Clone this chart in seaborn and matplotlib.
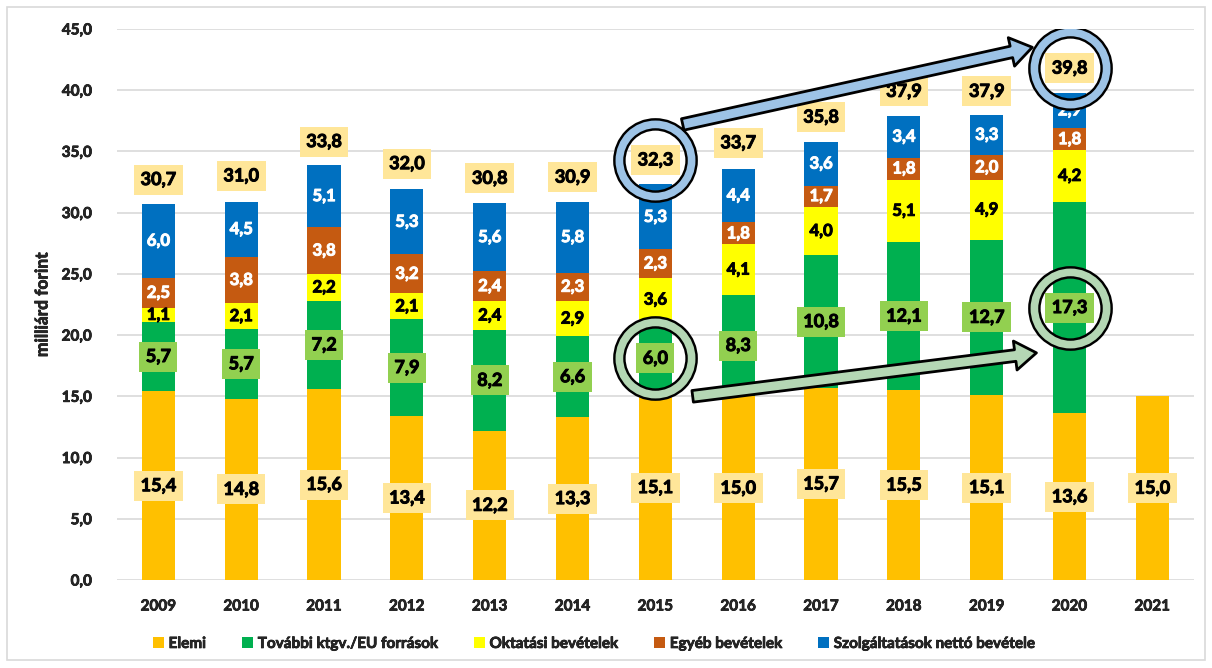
import matplotlib
matplotlib.use("Agg")
import numpy as np
import pandas as pd
import matplotlib.pyplot as plt
import matplotlib.patheffects as pe
import seaborn as sns
from matplotlib.patches import Patch, Rectangle, FancyArrowPatch
from matplotlib.ticker import MultipleLocator, FuncFormatter

# data (milliárd forint)
years = [str(y) for y in range(2009, 2022)]
elemi = [15.4, 14.8, 15.6, 13.4, 12.2, 13.3, 15.1, 15.0, 15.7, 15.5, 15.1, 13.6, 15.0]
tovabbi = [5.7, 5.7, 7.2, 7.9, 8.2, 6.6, 6.0, 8.3, 10.8, 12.1, 12.7, 17.3, 0]
oktatasi = [1.1, 2.1, 2.2, 2.1, 2.4, 2.9, 3.6, 4.1, 4.0, 5.1, 4.9, 4.2, 0]
egyeb = [2.5, 3.8, 3.8, 3.2, 2.4, 2.3, 2.3, 1.8, 1.7, 1.8, 2.0, 1.8, 0]
szolg = [6.0, 4.5, 5.1, 5.3, 5.6, 5.8, 5.3, 4.4, 3.6, 3.4, 3.3, 2.9, 0]
totals = [30.7, 31.0, 33.8, 32.0, 30.8, 30.9, 32.3, 33.7, 35.8, 37.9, 37.9, 39.8, np.nan]

series = ["Elemi", "További ktgv./EU források", "Oktatási bevételek",
          "Egyéb bevételek", "Szolgáltatások nettó bevétele"]
colors = ["#FFC000", "#00B050", "#FFFF00", "#C55A11", "#0070C0"]
label_colors = ["black", "black", "black", "white", "white"]
label_boxes = ["#FFE699", "#92D050", None, None, None]

df = pd.DataFrame(dict(zip(series, [elemi, tovabbi, oktatasi, egyeb, szolg])), index=years)
cum = df.cumsum(axis=1)


def fmt(v):
    return f"{v:.1f}".replace(".", ",")


def heavy(color, w=0.7):
    # thin outline in the text colour makes Lato look like Calibri Bold
    return [pe.withStroke(linewidth=w, foreground=color)]


sns.set_style("white")
plt.rcParams["font.family"] = ["Lato", "DejaVu Sans"]
plt.rcParams["font.weight"] = "bold"

fig = plt.figure(figsize=(12.12, 6.68), dpi=100)
ax = fig.add_axes([0.0965, 0.1317, 0.8885, 0.825])

# stacked bars: draw cumulative sums from the top series down
for col, c in reversed(list(zip(series, colors))):
    sns.barplot(x=years, y=cum[col].values, color=c, width=0.4, saturation=1,
                errorbar=None, linewidth=0, ax=ax)

ax.set_ylim(0, 45)
ax.set_xlim(-0.5, len(years) - 0.5)
ax.yaxis.set_major_locator(MultipleLocator(5))
ax.yaxis.set_major_formatter(FuncFormatter(lambda v, p: fmt(v)))
ax.grid(axis="y", color="#D9D9D9", lw=1.2)
ax.set_axisbelow(True)
for s in ax.spines.values():
    s.set_visible(False)
ax.tick_params(axis="y", length=0, pad=18, labelsize=11)
ax.tick_params(axis="x", length=0, pad=14, labelsize=11)
for lab in ax.get_xticklabels() + ax.get_yticklabels():
    lab.set_fontweight("bold")
    lab.set_path_effects(heavy("black", 0.5))
ax.set_ylabel("milliárd forint", fontsize=12.5, fontweight="bold", labelpad=8,
              path_effects=heavy("black", 0.5))
ax.set_xlabel("")

# segment labels
for i, col in enumerate(series):
    for j, yr in enumerate(years):
        v = df.loc[yr, col]
        if v <= 0:
            continue
        y = cum.loc[yr, col] - v / 2
        box = None
        size = 12
        if label_boxes[i]:
            box = dict(boxstyle="square,pad=0.36", fc=label_boxes[i], ec="none")
            size = 13
        ax.text(j, y, fmt(v), ha="center", va="center", fontsize=size,
                fontweight="bold", color=label_colors[i], bbox=box, zorder=5,
                path_effects=heavy(label_colors[i]))

# totals above bars
for j, t in enumerate(totals):
    if np.isnan(t):
        continue
    ax.text(j, t + 2.0, fmt(t), ha="center", va="center", fontsize=13,
            fontweight="bold", color="black", zorder=5, path_effects=heavy("black"),
            bbox=dict(boxstyle="square,pad=0.36", fc="#FFE699", ec="none"))

# highlight rings and arrows (2015 vs 2020)
i15, i20 = years.index("2015"), years.index("2020")
ring_blue, ring_green = "#9DC3E6", "#B4D7B4"
green_mid = [cum.loc[y, series[1]] - df.loc[y, series[1]] / 2 for y in ("2015", "2020")]
for (x, y, c) in [(i15, totals[i15] + 2.0, ring_blue), (i20, totals[i20] + 2.0, ring_blue),
                  (i15, green_mid[0], ring_green), (i20, green_mid[1], ring_green)]:
    ax.plot([x], [y], "o", ms=52, mfc="none", mec="black", mew=9, zorder=7)
    ax.plot([x], [y], "o", ms=52, mfc="none", mec=c, mew=5.5, zorder=8)

arrow_style = "simple,head_length=1.1,head_width=1.5,tail_width=0.6"
ax.add_patch(FancyArrowPatch((i15 + 0.33, totals[i15] + 4.9), (i20 - 0.45, totals[i20] + 3.7),
                             arrowstyle=arrow_style, mutation_scale=14, fc=ring_blue,
                             ec="black", lw=2, zorder=9, shrinkA=0, shrinkB=0))
ax.add_patch(FancyArrowPatch((i15 + 0.45, green_mid[0] - 3.1), (i20 - 0.4, green_mid[1] - 3.7),
                             arrowstyle=arrow_style, mutation_scale=14, fc=ring_green,
                             ec="black", lw=2, zorder=9, shrinkA=0, shrinkB=0))

handles = [Patch(fc=c, ec="none") for c in colors]
leg = fig.legend(handles, series, loc="center", bbox_to_anchor=(0.49, 0.036), ncol=5,
                 frameon=False, handlelength=0.7, handleheight=0.7,
                 handletextpad=0.3, columnspacing=2.4, prop={"weight": "bold", "size": 11})
for t in leg.get_texts():
    t.set_path_effects(heavy("black", 0.5))

fig.add_artist(Rectangle((0.006, 0.012), 0.988, 0.977, transform=fig.transFigure,
                         fill=False, ec="#D9D9D9", lw=1.2))

fig.savefig("out.png", dpi=100)
